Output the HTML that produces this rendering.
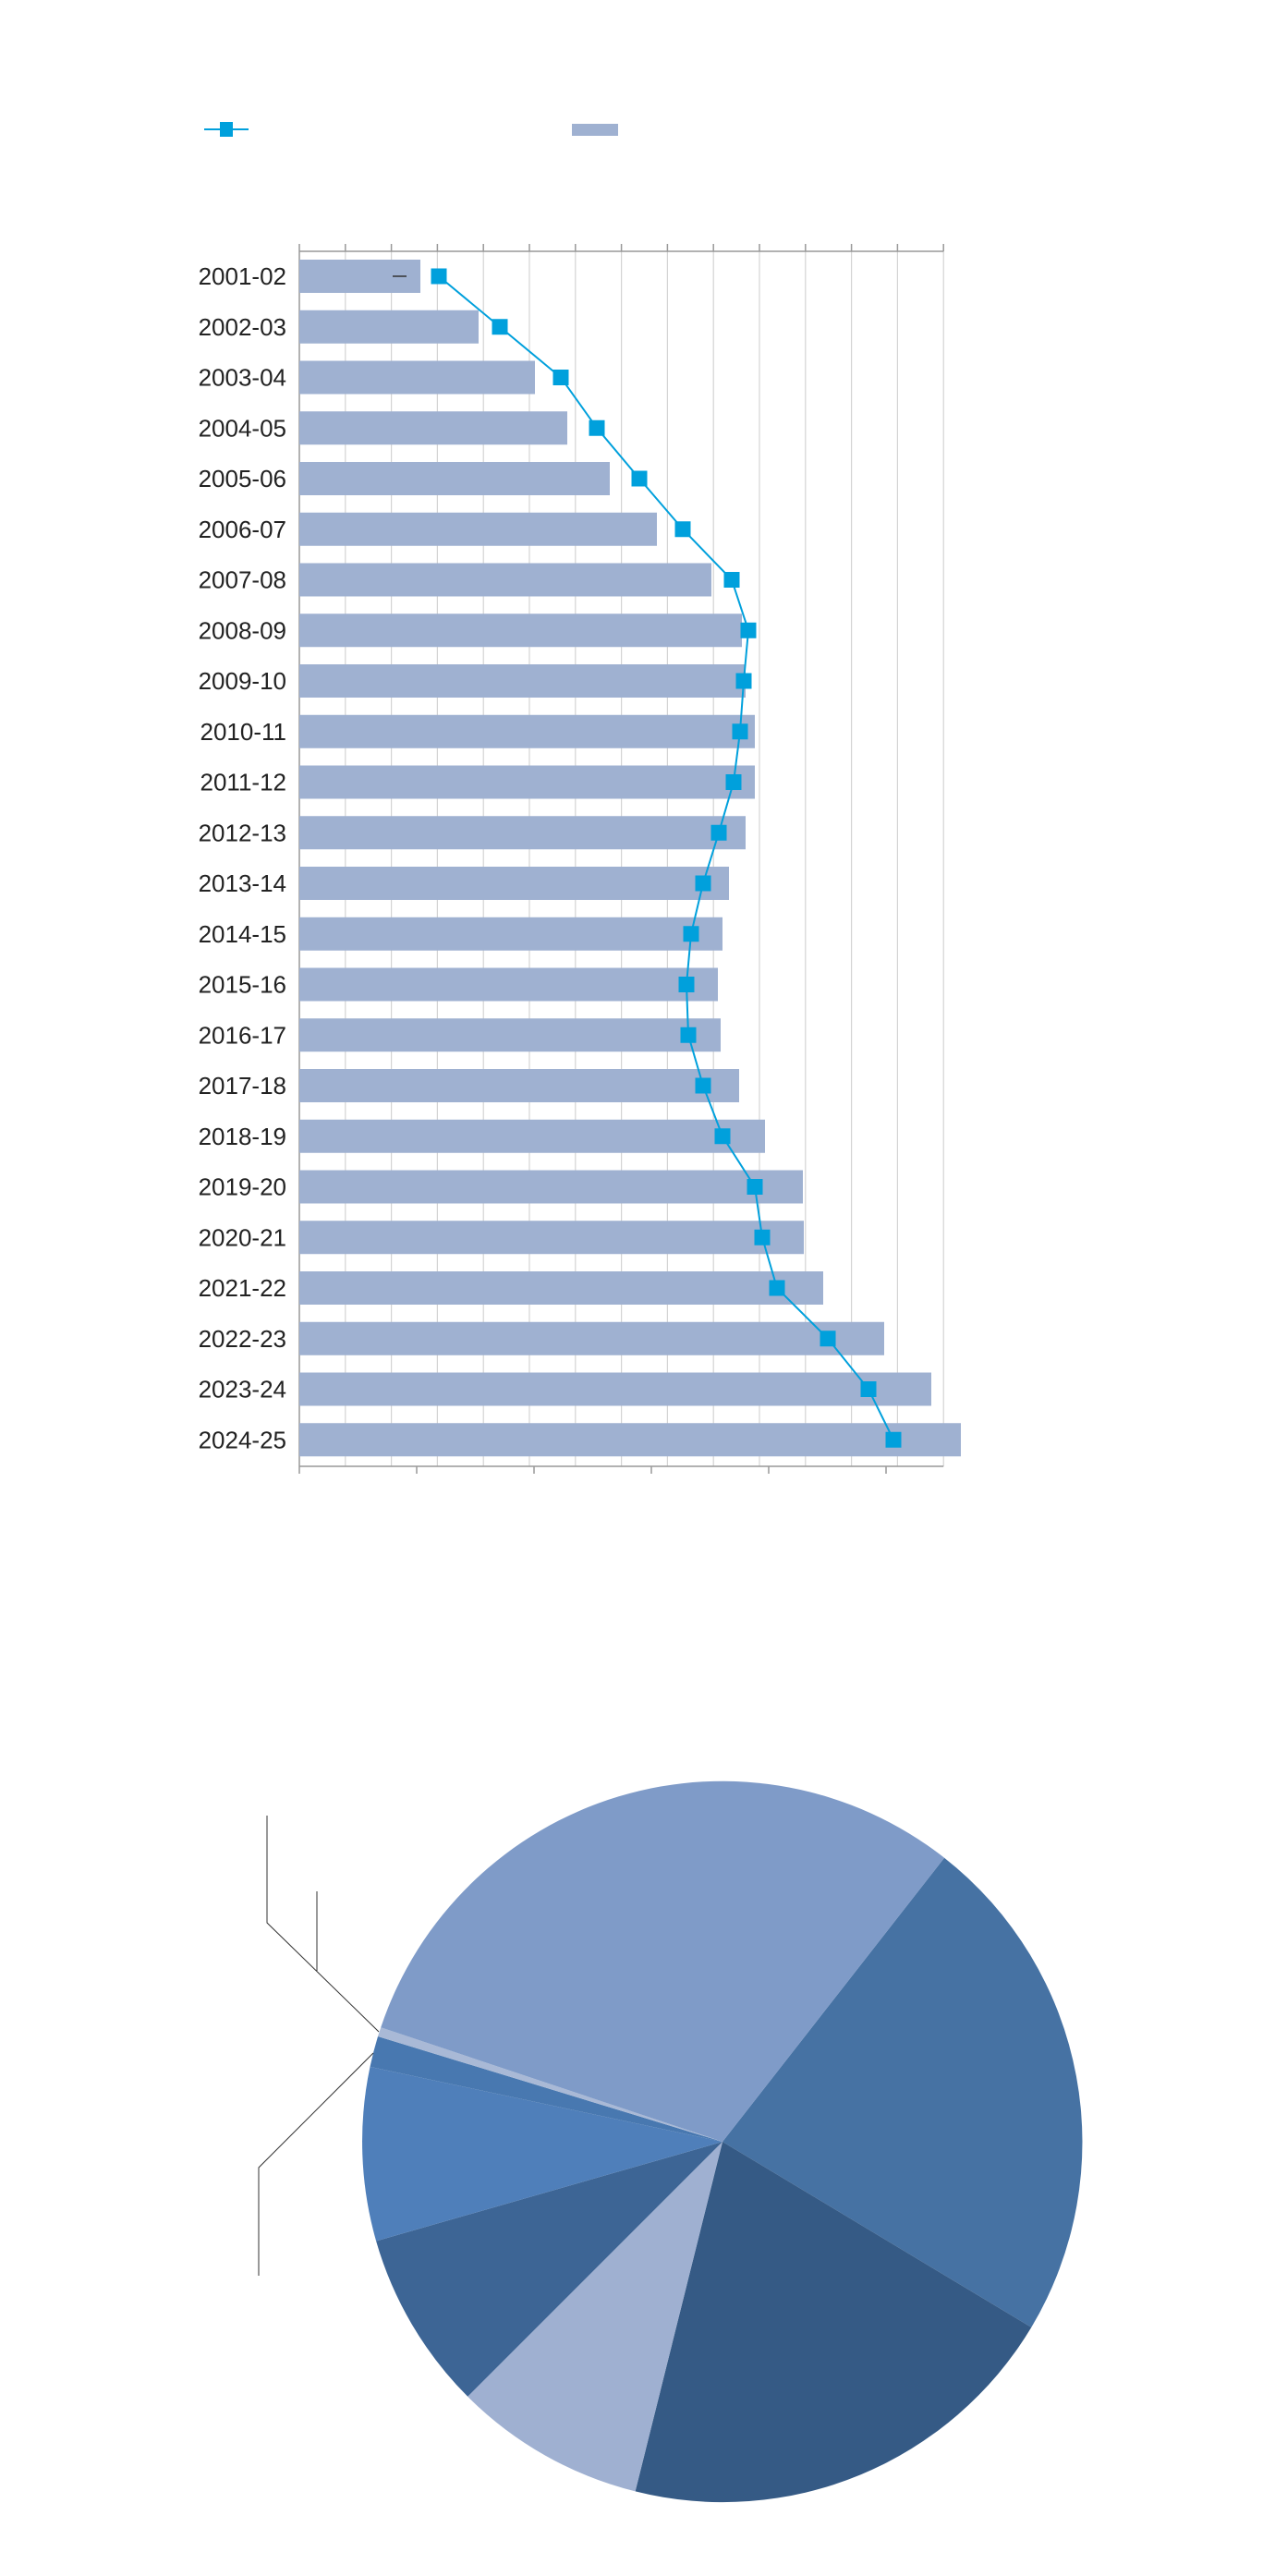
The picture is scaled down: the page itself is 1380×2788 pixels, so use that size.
<!DOCTYPE html>
<html><head><meta charset="utf-8"><style>
html,body{margin:0;padding:0;background:#fff;}
svg{display:block;}
text{font-family:"Liberation Sans",Arial,sans-serif;font-size:26px;fill:#222;}
</style></head><body>
<svg width="1380" height="2788" viewBox="0 0 1380 2788" xmlns="http://www.w3.org/2000/svg">
<line x1="221" y1="140" x2="269" y2="140" stroke="#00a0dc" stroke-width="2"/>
<rect x="238" y="132" width="14" height="16" fill="#00a0dc"/>
<rect x="619" y="134" width="50" height="13" fill="#9fb1d1"/>
<g stroke="#d4d4d4" stroke-width="1.2">
<line x1="373.8" y1="272" x2="373.8" y2="1587"/><line x1="423.6" y1="272" x2="423.6" y2="1587"/>
<line x1="473.4" y1="272" x2="473.4" y2="1587"/><line x1="523.2" y1="272" x2="523.2" y2="1587"/>
<line x1="573" y1="272" x2="573" y2="1587"/><line x1="622.8" y1="272" x2="622.8" y2="1587"/>
<line x1="672.6" y1="272" x2="672.6" y2="1587"/><line x1="722.4" y1="272" x2="722.4" y2="1587"/>
<line x1="772.2" y1="272" x2="772.2" y2="1587"/><line x1="822" y1="272" x2="822" y2="1587"/>
<line x1="871.8" y1="272" x2="871.8" y2="1587"/><line x1="921.6" y1="272" x2="921.6" y2="1587"/>
<line x1="971.4" y1="272" x2="971.4" y2="1587"/><line x1="1021.2" y1="272" x2="1021.2" y2="1587"/>
</g>
<g stroke="#999" stroke-width="1.5">
<line x1="324" y1="272" x2="1021.2" y2="272"/>
<line x1="324" y1="264" x2="324" y2="272"/><line x1="373.8" y1="264" x2="373.8" y2="272"/><line x1="423.6" y1="264" x2="423.6" y2="272"/><line x1="473.4" y1="264" x2="473.4" y2="272"/><line x1="523.2" y1="264" x2="523.2" y2="272"/><line x1="573" y1="264" x2="573" y2="272"/><line x1="622.8" y1="264" x2="622.8" y2="272"/><line x1="672.6" y1="264" x2="672.6" y2="272"/><line x1="722.4" y1="264" x2="722.4" y2="272"/><line x1="772.2" y1="264" x2="772.2" y2="272"/><line x1="822" y1="264" x2="822" y2="272"/><line x1="871.8" y1="264" x2="871.8" y2="272"/><line x1="921.6" y1="264" x2="921.6" y2="272"/><line x1="971.4" y1="264" x2="971.4" y2="272"/><line x1="1021.2" y1="264" x2="1021.2" y2="272"/>
<line x1="324" y1="1587" x2="1021.2" y2="1587"/>
<line x1="324" y1="272" x2="324" y2="1595"/>
<line x1="451" y1="1587" x2="451" y2="1595"/><line x1="578" y1="1587" x2="578" y2="1595"/><line x1="705" y1="1587" x2="705" y2="1595"/><line x1="832" y1="1587" x2="832" y2="1595"/><line x1="959" y1="1587" x2="959" y2="1595"/>
</g>
<g fill="#9fb1d1">
<rect x="324" y="281" width="131" height="36"/>
<rect x="324" y="335.75" width="194" height="36"/>
<rect x="324" y="390.5" width="255" height="36"/>
<rect x="324" y="445.25" width="290" height="36"/>
<rect x="324" y="500" width="336" height="36"/>
<rect x="324" y="554.75" width="387" height="36"/>
<rect x="324" y="609.5" width="446" height="36"/>
<rect x="324" y="664.25" width="479" height="36"/>
<rect x="324" y="719" width="483" height="36"/>
<rect x="324" y="773.75" width="493" height="36"/>
<rect x="324" y="828.5" width="493" height="36"/>
<rect x="324" y="883.25" width="483" height="36"/>
<rect x="324" y="938" width="465" height="36"/>
<rect x="324" y="992.75" width="458" height="36"/>
<rect x="324" y="1047.5" width="453" height="36"/>
<rect x="324" y="1102.25" width="456" height="36"/>
<rect x="324" y="1157" width="476" height="36"/>
<rect x="324" y="1211.75" width="504" height="36"/>
<rect x="324" y="1266.5" width="545" height="36"/>
<rect x="324" y="1321.25" width="546" height="36"/>
<rect x="324" y="1376" width="567" height="36"/>
<rect x="324" y="1430.75" width="633" height="36"/>
<rect x="324" y="1485.5" width="684" height="36"/>
<rect x="324" y="1540.25" width="716" height="36"/>
</g>
<line x1="425" y1="299" x2="440" y2="299" stroke="#333" stroke-width="1.5"/>
<polyline fill="none" stroke="#00a0dc" stroke-width="2" points="475,299 541,353.75 607,408.5 646,463.25 692,518 739,572.75 792,627.5 810,682.25 805,737 801,791.75 794,846.5 778,901.25 761,956 748,1010.75 743,1065.5 745,1120.25 761,1175 782,1229.75 817,1284.5 825,1339.25 841,1394 896,1448.75 940,1503.5 967,1558.25"/>
<g fill="#00a0dc">
<rect x="466.5" y="290.5" width="17" height="17"/><rect x="532.5" y="345.25" width="17" height="17"/><rect x="598.5" y="400" width="17" height="17"/><rect x="637.5" y="454.75" width="17" height="17"/><rect x="683.5" y="509.5" width="17" height="17"/><rect x="730.5" y="564.25" width="17" height="17"/><rect x="783.5" y="619" width="17" height="17"/><rect x="801.5" y="673.75" width="17" height="17"/><rect x="796.5" y="728.5" width="17" height="17"/><rect x="792.5" y="783.25" width="17" height="17"/><rect x="785.5" y="838" width="17" height="17"/><rect x="769.5" y="892.75" width="17" height="17"/><rect x="752.5" y="947.5" width="17" height="17"/><rect x="739.5" y="1002.25" width="17" height="17"/><rect x="734.5" y="1057" width="17" height="17"/><rect x="736.5" y="1111.75" width="17" height="17"/><rect x="752.5" y="1166.5" width="17" height="17"/><rect x="773.5" y="1221.25" width="17" height="17"/><rect x="808.5" y="1276" width="17" height="17"/><rect x="816.5" y="1330.75" width="17" height="17"/><rect x="832.5" y="1385.5" width="17" height="17"/><rect x="887.5" y="1440.25" width="17" height="17"/><rect x="931.5" y="1495" width="17" height="17"/><rect x="958.5" y="1549.75" width="17" height="17"/>
</g>
<g text-anchor="end" dominant-baseline="central">
<text x="310" y="299">2001-02</text><text x="310" y="353.75">2002-03</text><text x="310" y="408.5">2003-04</text><text x="310" y="463.25">2004-05</text><text x="310" y="518">2005-06</text><text x="310" y="572.75">2006-07</text><text x="310" y="627.5">2007-08</text><text x="310" y="682.25">2008-09</text><text x="310" y="737">2009-10</text><text x="310" y="791.75">2010-11</text><text x="310" y="846.5">2011-12</text><text x="310" y="901.25">2012-13</text><text x="310" y="956">2013-14</text><text x="310" y="1010.75">2014-15</text><text x="310" y="1065.5">2015-16</text><text x="310" y="1120.25">2016-17</text><text x="310" y="1175">2017-18</text><text x="310" y="1229.75">2018-19</text><text x="310" y="1284.5">2019-20</text><text x="310" y="1339.25">2020-21</text><text x="310" y="1394">2021-22</text><text x="310" y="1448.75">2022-23</text><text x="310" y="1503.5">2023-24</text><text x="310" y="1558.25">2024-25</text>
</g>
<g>
<path d="M782,2318 L1022.1,2010.7 A390,391 0 0 1 1116.3,2518.9 Z" fill="#4672a3"/>
<path d="M782,2318 L1116.3,2518.9 A390,391 0 0 1 687.6,2696.4 Z" fill="#355a85"/>
<path d="M782,2318 L687.6,2696.4 A390,391 0 0 1 506.2,2593.8 Z" fill="#9fb0d1"/>
<path d="M782,2318 L506.2,2593.8 A390,391 0 0 1 407.1,2425.5 Z" fill="#3d6595"/>
<path d="M782,2318 L407.1,2425.5 A390,391 0 0 1 400.5,2236.9 Z" fill="#4f7fba"/>
<path d="M782,2318 L400.5,2236.9 A390,391 0 0 1 409.0,2204.0 Z" fill="#4878b0"/>
<path d="M782,2318 L409.0,2204.0 A390,391 0 0 1 412.2,2194.3 Z" fill="#a9b9d6"/>
<path d="M782,2318 L412.2,2194.3 A390,391 0 0 1 1022.1,2010.7 Z" fill="#7f9bc8"/>
</g>
<g fill="none" stroke="#333" stroke-width="1">
<polyline points="289,1965 289,2081 410,2199"/>
<line x1="343" y1="2047" x2="343" y2="2133"/>
<polyline points="404,2222 280,2346 280,2463"/>
</g>
</svg>
</body></html>
